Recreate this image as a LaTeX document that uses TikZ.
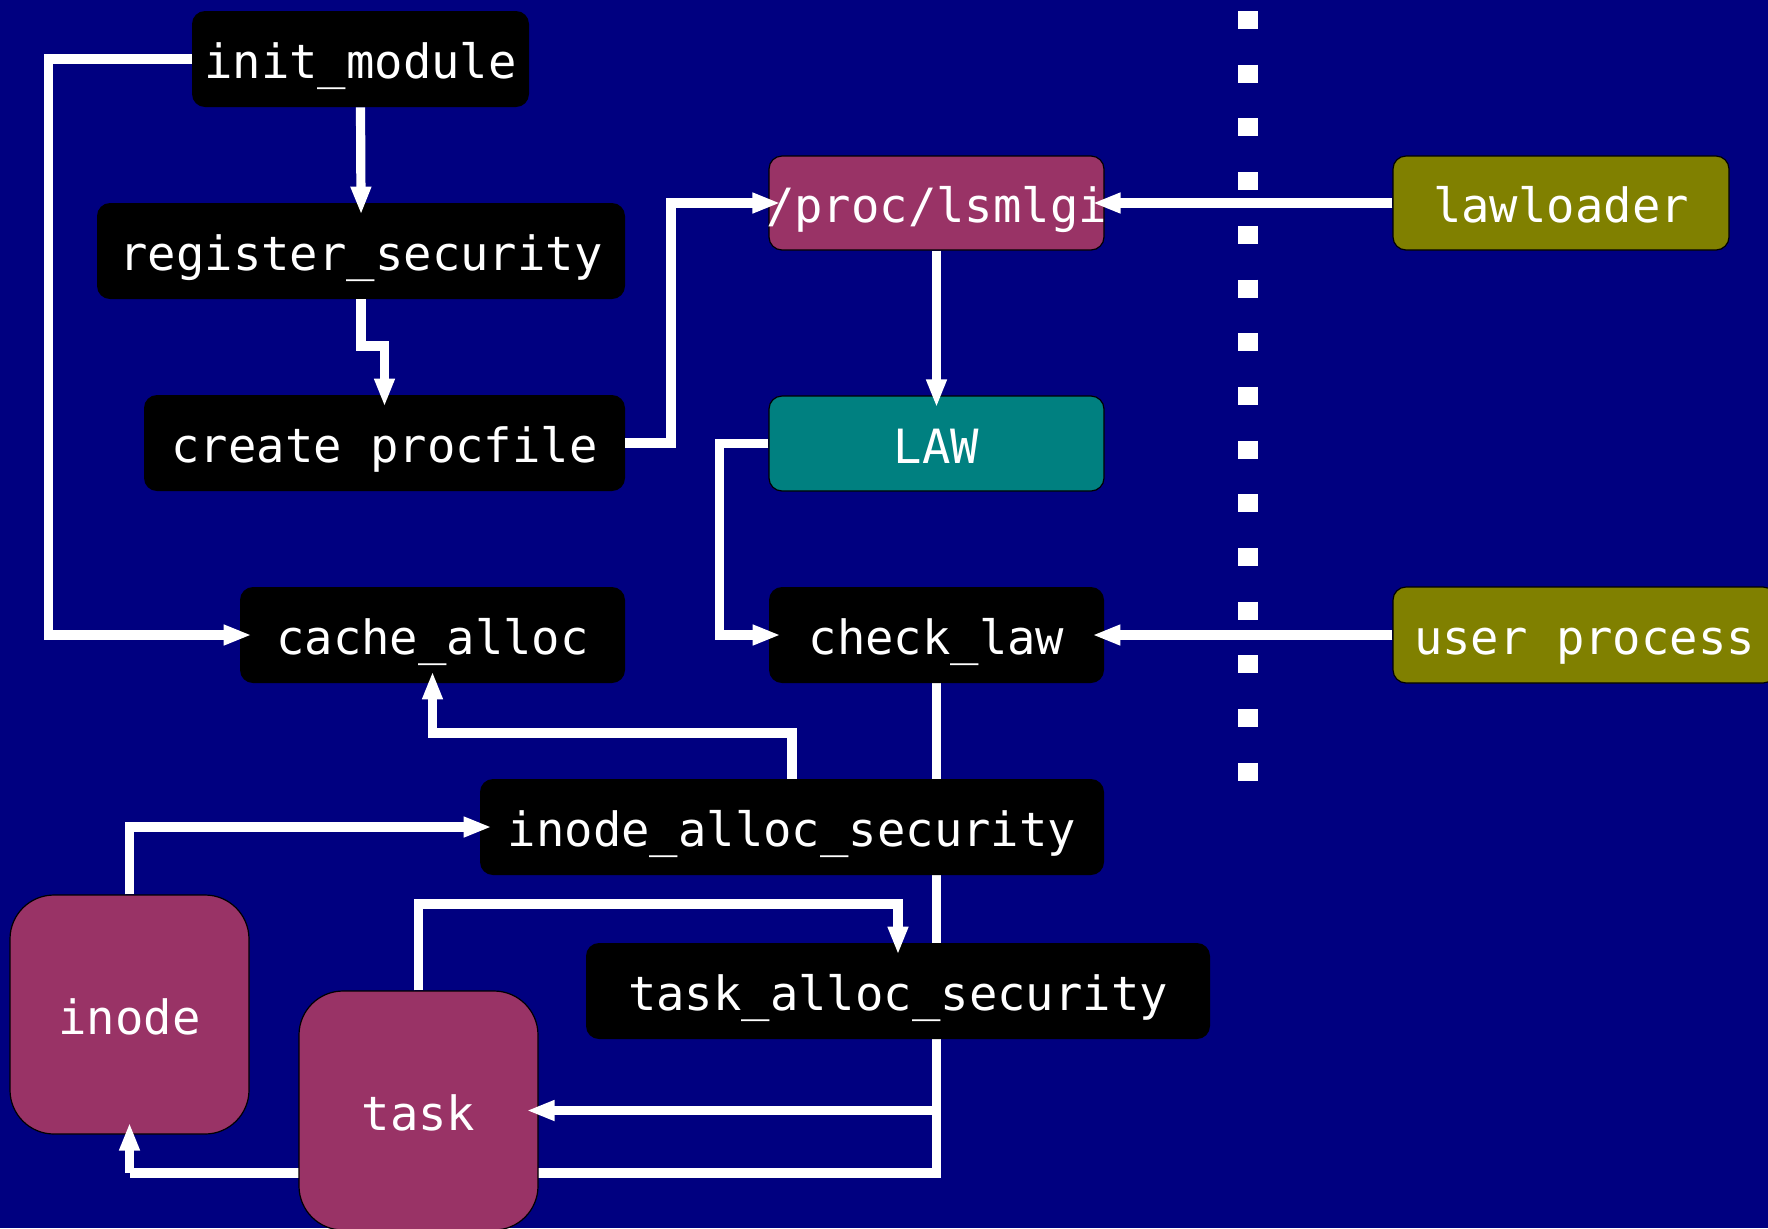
\documentclass[tikz,border=0pt]{standalone}
\usepackage{fontspec}
\newfontfamily\diagmono{DejaVu Sans Mono}
\usetikzlibrary{arrows.meta}
\pgfdeclarelayer{bgfill}
\pgfdeclarelayer{back}
\pgfdeclarelayer{front}
\pgfsetlayers{bgfill,back,main,front}
\definecolor{navybg}{HTML}{000080}
\definecolor{magbox}{HTML}{993366}
\definecolor{tealbox}{HTML}{008080}
\definecolor{olivebox}{HTML}{808000}
\begin{document}
\begin{tikzpicture}[x=0.5pt,y=-0.5pt,
  box/.style={rounded corners=6.5pt, inner sep=0pt, minimum height=48pt,
    text height=20.5pt, text depth=0.7pt,
    text=white, font=\diagmono\fontsize{23.6}{28}\selectfont},
  blk/.style={box, fill=black},
  magb/.style={box, fill=magbox, draw=black, line width=0.6pt},
  tealb/.style={box, fill=tealbox, draw=black, line width=0.6pt},
  oliveb/.style={box, fill=olivebox, draw=black, line width=0.6pt},
  bigb/.style={magb, rounded corners=22pt, minimum width=119.5pt, minimum height=119.5pt},
  conn/.style={draw=white, line width=4.6pt, line join=miter,
    -{Triangle[length=14pt,width=9.5pt]}, shorten >=-6pt},
  plain/.style={draw=white, line width=4.6pt, line join=miter},
  sep/.style={draw=white, line width=10pt, dash pattern=on 9pt off 17.85pt}
]
\begin{pgfonlayer}{bgfill}
  \fill[navybg] (0,0) rectangle (1768,1228);
\end{pgfonlayer}
\useasboundingbox (0,0) rectangle (1768,1228);

% nodes
\node[blk, minimum width=168.5pt] (init) at (360.5,59) {init\_module};
\node[blk, minimum width=264pt] (reg) at (361,251) {register\_security};
\node[blk, minimum width=240.5pt] (create) at (384.5,443) {create procfile};
\node[blk, minimum width=192.5pt] (cache) at (432.5,635) {cache\_alloc};
\node[magb, minimum width=167.5pt, minimum height=47pt] (proc) at (936.5,203) {\makebox[0pt]{/proc/lsmlgi}};
\node[tealb, minimum width=167.5pt, minimum height=47.5pt] (law) at (936.5,443.5) {LAW};
\node[blk, minimum width=167.5pt] (check) at (936.5,635) {check\_law};
\node[oliveb, minimum width=168pt, minimum height=47pt] (loader) at (1561,203) {lawloader};
\node[oliveb, minimum width=191.5pt] (user) at (1584.5,635) {user process};
\node[blk, minimum width=312pt] (ia) at (792,827) {inode\_alloc\_security};
\node[blk, minimum width=312pt] (ta) at (898,991) {task\_alloc\_security};
\node[bigb] (inode) at (129.5,1014.5) {inode};
\node[bigb] (task) at (418.5,1110.5) {task};

% separator
\coordinate (septop) at (1248,11);
\coordinate (sepbot) at (1248,781);
\draw[sep] (septop) -- (sepbot);

% bus from check_law (behind boxes)
\coordinate (busj) at (check.south |- task.east);
\coordinate (busb) at (936.5,1173);
\coordinate (busl) at (129.5,1173);
\begin{pgfonlayer}{back}
  \draw[plain] (check.south) -- (busj) -- (busb) -- (busl);
\end{pgfonlayer}

\begin{pgfonlayer}{front}
  \draw[conn] (busj) -- (task.east);
  \draw[conn] (busl) -- (inode.south);
  \draw[conn] (init.west) -- (48.5,59) |- (cache.west);
  \draw[conn] (init.south) -- (reg.north);
  \draw[conn] (reg.south) -- (361,346) -| (create.north);
  \draw[conn] (create.east) -- (671,443) |- (proc.west);
  \draw[conn] (loader.west) -- (proc.east);
  \draw[conn] (proc.south) -- (law.north);
  \draw[conn] (law.west) -- (719.4,443.5) |- (check.west);
  \draw[conn] (user.west) -- (check.east);
  \draw[conn] (ia.north) -- (792,733) -| (cache.south);
  \draw[conn] (inode.north) |- (ia.west);
  \draw[conn] (task.north) -- (418.5,904) -| (ta.north);
\end{pgfonlayer}
\end{tikzpicture}
\end{document}
